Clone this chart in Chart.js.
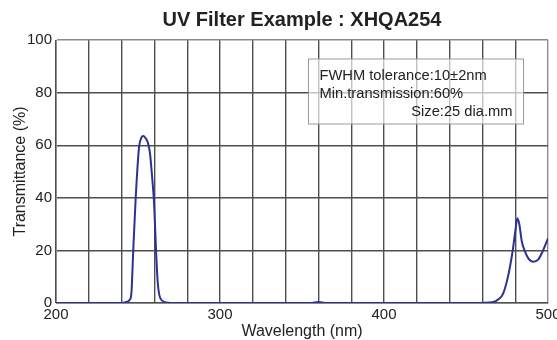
<!DOCTYPE html>
<html>
<head>
<meta charset="utf-8">
<script src="https://cdn.jsdelivr.net/npm/chart.js@4/dist/chart.umd.min.js"></script>
<style>
  html, body { margin: 0; padding: 0; background: #fff; }
  #wrap { width: 557px; height: 340px; position: relative; }
</style>
</head>
<body>
<div id="wrap"><canvas id="chart"></canvas></div>
<script>
// --- Data ---
const wavelengths = [
  200, 240, 243, 245, 246, 247.1, 248.6, 250.6, 252, 253.2, 254.5, 256, 257.3,
  258.6, 259.8, 261, 262, 263, 265, 267, 270, 300, 355, 360, 365, 400, 455,
  466, 470, 472.7, 475.8, 478.5, 480, 481.3, 482.5, 484, 486, 488, 491, 494,
  497, 500,
];
const transmittance = [
  0, 0, 0.4, 1.2, 4, 20, 40, 59, 62.8, 63.5, 62.8, 61, 57,
  48, 38, 20, 8, 3, 0.8, 0.2, 0, 0, 0, 0.4, 0, 0, 0,
  0.3, 1.5, 3.7, 10.6, 20, 27, 32.2, 30, 23.5, 19.5, 17, 15.7, 16.5,
  20, 24.6,
];
const xTickLabels = [200, 300, 400, 500];
const yTickLabels = [0, 20, 40, 60, 80, 100];
const chartTitle = "UV Filter Example : XHQA254";
const noteLines = ["FWHM tolerance:10\u00b12nm", "Min.transmission:60%", "Size:25 dia.mm"];

const points = wavelengths.map((w, i) => ({ x: w, y: transmittance[i] }));

const FONT = "'Liberation Sans', Arial, sans-serif";
const GRID_DARK = "#4e4e4e";
const GRID_EDGE = "#8c8c8c";
const TEXT = "#222";

// --- Title + note box, drawn over the plot area ---
const overlay = {
  id: "overlay",
  afterDraw(chart) {
    const { ctx, chartArea } = chart;
    ctx.save();

    // title centred over the plot area, not the whole canvas
    ctx.fillStyle = TEXT;
    ctx.font = `bold 20px ${FONT}`;
    ctx.textAlign = "center";
    ctx.textBaseline = "middle";
    ctx.fillText(chartTitle, (chartArea.left + chartArea.right) / 2, 20);

    const x = chartArea.left + 252.5;
    const y = chartArea.top + 19;
    const w = 215;
    const h = 65;
    ctx.fillStyle = "rgba(255,255,255,0.65)";
    ctx.fillRect(x, y, w, h);
    ctx.strokeStyle = "#999";
    ctx.lineWidth = 1;
    ctx.strokeRect(x, y, w, h);

    ctx.fillStyle = TEXT;
    ctx.font = `14.7px ${FONT}`;
    ctx.textAlign = "left";
    ctx.fillText(noteLines[0], x + 11, y + 17);
    ctx.fillText(noteLines[1], x + 11, y + 35);
    ctx.textAlign = "right";
    ctx.fillText(noteLines[2], x + w - 11, y + 53);
    ctx.restore();
  },
};

function gridColor(c) {
  const v = c.tick ? c.tick.value : null;
  return v === 100 || v === 500 ? GRID_EDGE : GRID_DARK;
}

new Chart(document.getElementById("chart"), {
  type: "line",
  data: {
    datasets: [
      {
        data: points,
        borderColor: "#2c3192",
        borderWidth: 2,
        pointRadius: 0,
        cubicInterpolationMode: "monotone",
        fill: false,
      },
    ],
  },
  options: {
    responsive: true,
    maintainAspectRatio: false,
    animation: false,
    layout: { padding: { left: 0, right: 9, top: 40, bottom: 0 } },
    plugins: {
      legend: { display: false },
      tooltip: { enabled: false },
      title: { display: false },
    },
    scales: {
      x: {
        type: "linear",
        min: 200,
        max: 500,
        afterBuildTicks: (s) => {
          s.ticks = [];
          for (let v = 200; v <= 500; v += 20) s.ticks.push({ value: v });
        },
        afterFit: (s) => {
          s.height = 37;
          s.paddingLeft = 0;
          s.paddingRight = 0;
        },
        ticks: {
          autoSkip: false,
          maxRotation: 0,
          padding: 3,
          color: TEXT,
          font: { family: FONT, size: 15 },
          callback: (v) => (xTickLabels.includes(v) ? String(v) : ""),
        },
        grid: { color: gridColor, lineWidth: 1.4, drawTicks: false },
        border: { color: GRID_EDGE, width: 1 },
        title: {
          display: true,
          text: "Wavelength (nm)",
          color: TEXT,
          font: { family: FONT, size: 16, lineHeight: 1 },
          padding: { top: 0, bottom: 0 },
        },
      },
      y: {
        min: 0,
        max: 100,
        afterBuildTicks: (s) => {
          s.ticks = yTickLabels.map((v) => ({ value: v }));
        },
        afterFit: (s) => {
          s.width = 56;
          s.paddingTop = 0;
          s.paddingBottom = 0;
        },
        ticks: {
          padding: 4,
          color: TEXT,
          font: { family: FONT, size: 15 },
        },
        grid: { color: gridColor, lineWidth: 1.4, drawTicks: false },
        border: { color: GRID_EDGE, width: 1 },
        title: {
          display: true,
          text: "Transmittance (%)",
          color: TEXT,
          font: { family: FONT, size: 16, lineHeight: 1.2 },
          padding: { top: 11, bottom: 0 },
        },
      },
    },
  },
  plugins: [overlay],
});
</script>
</body>
</html>
